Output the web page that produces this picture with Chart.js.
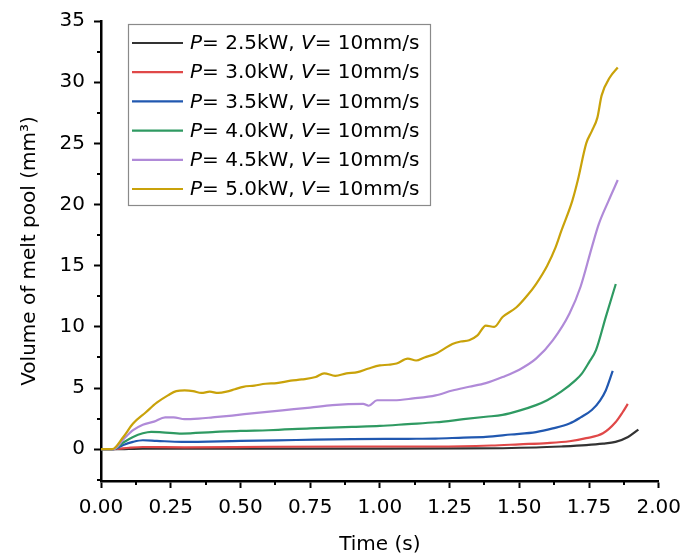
<!DOCTYPE html>
<html>
<head>
<meta charset="utf-8">
<title>Volume of melt pool</title>
<script src="https://cdn.jsdelivr.net/npm/chart.js@4.4.1/dist/chart.umd.min.js"></script>
<style>
  html, body { margin: 0; padding: 0; background: #fff; }
  #wrap { width: 689px; height: 560px; }
</style>
</head>
<body>
<div id="wrap"><canvas id="chart" width="689" height="560"></canvas></div>
<script>
// --- Data ---
const powers = ['2.5', '3.0', '3.5', '4.0', '4.5', '5.0'];
const speed = '10';
const colors = ['#333333', '#e04848', '#2158b0', '#2f9a62', '#b08ad8', '#c9a20a'];

const xTicks = [0, 0.25, 0.5, 0.75, 1.0, 1.25, 1.5, 1.75, 2.0];
const yTicks = [0, 5, 10, 15, 20, 25, 30, 35];

// P = 2.5 kW
const t25 = [0, 0.05, 0.15, 0.5, 1.0, 1.3, 1.56, 1.65, 1.74, 1.8, 1.845, 1.89, 1.927];
const v25 = [0, 0, 0.05, 0.05, 0.05, 0.06, 0.14, 0.22, 0.33, 0.45, 0.6, 1.0, 1.6];

// P = 3.0 kW
const t30 = [0, 0.045, 0.1, 0.15, 0.3, 0.6, 0.9, 1.2, 1.4, 1.5, 1.6, 1.68, 1.74, 1.8, 1.845, 1.87, 1.889];
const v30 = [0, 0, 0.12, 0.18, 0.15, 0.2, 0.22, 0.22, 0.3, 0.4, 0.5, 0.65, 0.9, 1.3, 2.2, 3.0, 3.7];

// P = 3.5 kW
const t35 = [0, 0.045, 0.08, 0.115, 0.15, 0.2, 0.29, 0.5, 0.7, 0.9, 1.1, 1.2, 1.3, 1.38, 1.47, 1.56, 1.62, 1.68, 1.72, 1.76, 1.79, 1.81, 1.835];
const v35 = [0, 0, 0.35, 0.6, 0.73, 0.68, 0.6, 0.68, 0.75, 0.82, 0.85, 0.87, 0.95, 1.0, 1.2, 1.4, 1.7, 2.1, 2.6, 3.2, 4.0, 4.8, 6.4];

// P = 4.0 kW
const t40 = [0, 0.045, 0.08, 0.115, 0.15, 0.18, 0.22, 0.29, 0.4, 0.5, 0.6, 0.75, 0.9, 1.0, 1.1, 1.2, 1.3, 1.38, 1.44, 1.5, 1.56, 1.6, 1.65, 1.7, 1.725, 1.75, 1.775, 1.81, 1.846];
const v40 = [0, 0, 0.55, 1.0, 1.3, 1.42, 1.38, 1.28, 1.4, 1.5, 1.55, 1.7, 1.82, 1.9, 2.05, 2.2, 2.45, 2.65, 2.8, 3.15, 3.6, 4.0, 4.7, 5.6, 6.2, 7.1, 8.1, 10.8, 13.5];

// P = 4.5 kW
const t45 = [0, 0.045, 0.08, 0.115, 0.15, 0.19, 0.23, 0.26, 0.3, 0.35, 0.4, 0.47, 0.55, 0.65, 0.75, 0.83, 0.94, 0.96, 0.99, 1.05, 1.12, 1.2, 1.26, 1.32, 1.38, 1.44, 1.5, 1.56, 1.62, 1.68, 1.72, 1.76, 1.785, 1.82, 1.853];
const v45 = [0, 0, 0.8, 1.55, 2.0, 2.25, 2.6, 2.6, 2.45, 2.5, 2.6, 2.75, 2.95, 3.18, 3.4, 3.6, 3.7, 3.55, 4.0, 4.0, 4.15, 4.4, 4.8, 5.1, 5.4, 5.9, 6.5, 7.4, 8.9, 11.1, 13.3, 16.5, 18.4, 20.3, 22.0];

// P = 5.0 kW
const t50 = [0, 0.04, 0.08, 0.115, 0.16, 0.2, 0.24, 0.27, 0.3, 0.33, 0.36, 0.39, 0.42, 0.45, 0.48, 0.51, 0.55, 0.59, 0.63, 0.68, 0.72, 0.77, 0.8, 0.84, 0.88, 0.92, 0.96, 1.0, 1.03, 1.06, 1.1, 1.13, 1.16, 1.2, 1.23, 1.26, 1.29, 1.32, 1.35, 1.38, 1.41, 1.44, 1.49, 1.53, 1.56, 1.6, 1.63, 1.65, 1.69, 1.71, 1.74, 1.76, 1.78, 1.795, 1.825, 1.853];
const v50 = [0, 0, 1.0, 2.1, 3.0, 3.8, 4.4, 4.75, 4.8, 4.75, 4.6, 4.7, 4.6, 4.7, 4.9, 5.1, 5.2, 5.35, 5.4, 5.6, 5.7, 5.9, 6.2, 6.0, 6.2, 6.3, 6.6, 6.85, 6.9, 7.0, 7.4, 7.25, 7.5, 7.8, 8.2, 8.6, 8.8, 8.9, 9.3, 10.1, 10.0, 10.8, 11.6, 12.6, 13.5, 15.0, 16.5, 17.8, 20.3, 22.0, 25.0, 26.0, 27.1, 28.9, 30.4, 31.2];

const times = [t25, t30, t35, t40, t45, t50];
const volumes = [v25, v30, v35, v40, v45, v50];

// --- Helpers ---
const FONT = '"DejaVu Sans", "Liberation Sans", Arial, sans-serif';
const INK = '#000';

function toPoints(ts, vs) {
  return ts.map((t, i) => ({ x: t, y: vs[i] }));
}

const datasets = powers.map((p, i) => ({
  label: `P= ${p}kW, V= ${speed}mm/s`,
  data: toPoints(times[i], volumes[i]),
  borderColor: colors[i],
  borderWidth: 2.2,
  pointRadius: 0,
  cubicInterpolationMode: 'monotone',
  order: powers.length - 1 - i, // later series on top, like the original
}));

// minor ticks, drawn outward between the labelled ones
const minorTicks = {
  id: 'minorTicks',
  afterDraw(chart) {
    const { ctx, chartArea, scales } = chart;
    ctx.save();
    ctx.strokeStyle = INK;
    ctx.lineWidth = 2;
    ctx.beginPath();
    for (let i = 0; i < xTicks.length - 1; i++) {
      const px = Math.round(scales.x.getPixelForValue((xTicks[i] + xTicks[i + 1]) / 2));
      ctx.moveTo(px, chartArea.bottom);
      ctx.lineTo(px, chartArea.bottom + 4);
    }
    const yMinor = [-2.5].concat(yTicks.slice(0, -1).map((v, i) => (v + yTicks[i + 1]) / 2));
    yMinor.forEach((v) => {
      const py = Math.round(scales.y.getPixelForValue(v));
      ctx.moveTo(chartArea.left, py);
      ctx.lineTo(chartArea.left - 4, py);
    });
    ctx.stroke();
    ctx.restore();
  },
};

// boxed legend with italic P and V
const boxLegend = {
  id: 'boxLegend',
  afterDraw(chart) {
    const { ctx } = chart;
    const box = { x: 128, y: 24, w: 302, h: 181 };
    const rowH = 29.2;
    ctx.save();
    ctx.fillStyle = '#fff';
    ctx.fillRect(box.x, box.y, box.w, box.h);
    ctx.strokeStyle = '#8a8a8a';
    ctx.lineWidth = 1.2;
    ctx.strokeRect(box.x + 0.5, box.y + 0.5, box.w, box.h);
    ctx.textBaseline = 'middle';
    chart.data.datasets.forEach((ds, i) => {
      const cy = box.y + 19 + i * rowH;
      ctx.strokeStyle = ds.borderColor;
      ctx.lineWidth = 2.2;
      ctx.beginPath();
      ctx.moveTo(box.x + 4, cy);
      ctx.lineTo(box.x + 55, cy);
      ctx.stroke();
      // split label into italic symbols and plain text
      const parts = ds.label.split(/([PV])(?==)/).filter((s) => s !== '');
      let x = box.x + 62;
      ctx.fillStyle = INK;
      parts.forEach((s) => {
        ctx.font = (s === 'P' || s === 'V' ? 'italic ' : '') + '20px ' + FONT;
        ctx.fillText(s, x, cy + 1);
        x += ctx.measureText(s).width;
      });
    });
    ctx.restore();
  },
};

// --- Chart ---
new Chart(document.getElementById('chart'), {
  type: 'line',
  data: { datasets },
  plugins: [minorTicks, boxLegend],
  options: {
    responsive: false,
    animation: false,
    layout: { padding: { top: 20, right: 25, left: 0, bottom: 0 } },
    plugins: {
      legend: { display: false },
      tooltip: { enabled: false },
    },
    scales: {
      x: {
        type: 'linear',
        min: 0,
        max: 2,
        afterFit: (s) => { s.height = 79; },
        afterBuildTicks: (s) => { s.ticks = xTicks.map((v) => ({ value: v })); },
        ticks: {
          color: INK,
          padding: 8,
          maxRotation: 0,
          font: { family: FONT, size: 20 },
          callback: (v) => Number(v).toFixed(2),
        },
        grid: { drawOnChartArea: false, drawTicks: true, tickLength: 7, tickWidth: 2, tickColor: INK },
        border: { display: true, color: INK, width: 2.5 },
        title: {
          display: true,
          text: 'Time (s)',
          color: INK,
          font: { family: FONT, size: 20 },
          padding: { top: 0, bottom: 3 },
        },
      },
      y: {
        type: 'linear',
        min: -2.6,
        max: 35,
        afterFit: (s) => { s.width = 101; },
        afterBuildTicks: (s) => { s.ticks = yTicks.map((v) => ({ value: v })); },
        ticks: {
          color: INK,
          padding: 9,
          font: { family: FONT, size: 20 },
        },
        grid: { drawOnChartArea: false, drawTicks: true, tickLength: 7, tickWidth: 2, tickColor: INK },
        border: { display: true, color: INK, width: 2.5 },
        title: {
          display: true,
          text: 'Volume of melt pool (mm³)',
          color: INK,
          font: { family: FONT, size: 20 },
          padding: { top: 18, bottom: 0 },
        },
      },
    },
  },
});
</script>
</body>
</html>
